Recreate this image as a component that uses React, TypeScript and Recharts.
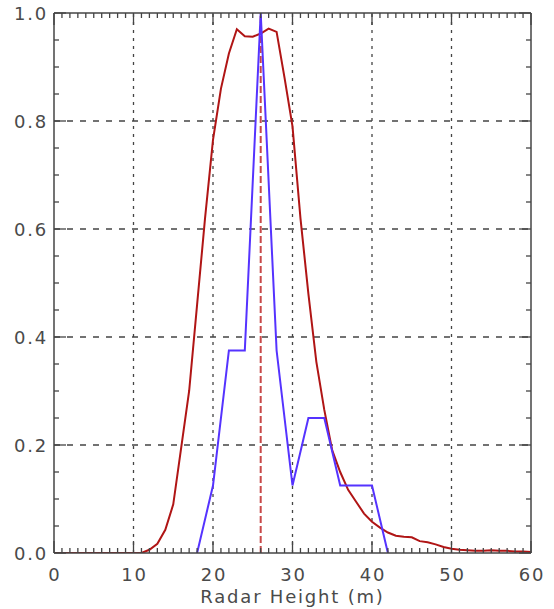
import React from 'react';
import { LineChart, Line, XAxis, YAxis, ReferenceLine } from 'recharts';

// Radar height (m) grid for the red curve
const redHeights = [
  0, 1, 2, 3, 4, 5, 6, 7, 8, 9, 10, 11, 12, 13, 14, 15, 16, 17, 18, 19, 20,
  21, 22, 23, 24, 25, 26, 27, 28, 29, 30, 31, 32, 33, 34, 35, 36, 37, 38, 39, 40,
  41, 42, 43, 44, 45, 46, 47, 48, 49, 50, 51, 52, 53, 54, 55, 56, 57, 58, 59, 60,
];
const redValues = [
  0, 0, 0, 0, 0, 0, 0, 0, 0, 0, 0, 0, 0.006, 0.017, 0.043, 0.09, 0.195, 0.3, 0.46, 0.62, 0.765,
  0.86, 0.925, 0.97, 0.957, 0.956, 0.962, 0.971, 0.965, 0.88, 0.79, 0.62, 0.48, 0.354, 0.265, 0.19, 0.15, 0.117, 0.095, 0.073, 0.058,
  0.047, 0.038, 0.032, 0.03, 0.029, 0.022, 0.02, 0.016, 0.011, 0.008, 0.006, 0.005, 0.004, 0.004, 0.005, 0.004, 0.004, 0.003, 0.003, 0.002,
];

const blueHeights = [18, 20, 22, 24, 26, 28, 30, 32, 34, 36, 38, 40, 42];
const blueValues = [0, 0.125, 0.375, 0.375, 1, 0.375, 0.125, 0.25, 0.25, 0.125, 0.125, 0.125, 0];

const peakHeight = 26;

const xMajorTicks = [0, 10, 20, 30, 40, 50, 60];
const xGridLines = [10, 20, 30, 40, 50];
const yMajorTicks = [0, 0.2, 0.4, 0.6, 0.8, 1.0];
const yGridLines = [0.2, 0.4, 0.6, 0.8];

const xMinorTicks = Array.from({ length: 61 }, (_, i) => i);
const yMinorTicks = Array.from({ length: 21 }, (_, i) => i / 20);

const redData = redHeights.map((h, i) => ({ x: h, y: redValues[i] }));
const blueData = blueHeights.map((h, i) => ({ x: h, y: blueValues[i] }));

const AXIS = '#444444';
const TEXT = '#4a4a4a';
const FONT = 'DejaVu Sans, sans-serif';
const LS = 1.8;

const isXMajor = (v: number) => xMajorTicks.includes(Math.round(v));
const isYMajor = (v: number) => yMajorTicks.some((t) => Math.abs(t - v) < 1e-6);

const BottomTick = (props: any) => {
  const { x, y, payload } = props;
  const major = isXMajor(payload.value);
  return (
    <g>
      <line x1={x} x2={x} y1={y} y2={y - (major ? 12 : 5)} stroke={AXIS} strokeWidth={1.3} />
      {major && (
        <text x={x + LS / 2} y={y + 21} textAnchor="middle" dominantBaseline="central" fill={TEXT} fontSize={18} fontFamily={FONT} letterSpacing={LS}>
          {Math.round(payload.value)}
        </text>
      )}
    </g>
  );
};

const TopTick = (props: any) => {
  const { x, y, payload } = props;
  const major = isXMajor(payload.value);
  return <line x1={x} x2={x} y1={y} y2={y + (major ? 12 : 5)} stroke={AXIS} strokeWidth={1.3} />;
};

const LeftTick = (props: any) => {
  const { x, y, payload } = props;
  const major = isYMajor(payload.value);
  return (
    <g>
      <line x1={x} x2={x + (major ? 12 : 5)} y1={y} y2={y} stroke={AXIS} strokeWidth={1.3} />
      {major && (
        <text x={x - 6} y={y} textAnchor="end" dominantBaseline="central" fill={TEXT} fontSize={18} fontFamily={FONT} letterSpacing={LS}>
          {payload.value.toFixed(1)}
        </text>
      )}
    </g>
  );
};

const RightTick = (props: any) => {
  const { x, y, payload } = props;
  const major = isYMajor(payload.value);
  return <line x1={x} x2={x - (major ? 12 : 5)} y1={y} y2={y} stroke={AXIS} strokeWidth={1.3} />;
};

export default function App() {
  return (
    <div style={{ position: 'absolute', left: 0, top: 0, background: '#fff' }}>
      <LineChart width={554} height={609} margin={{ top: 12, right: 22, bottom: 0, left: 0 }}>
        <XAxis
          dataKey="x"
          type="number"
          domain={[0, 60]}
          ticks={xMinorTicks}
          interval={0}
          height={56}
          tickSize={0}
          tickMargin={0}
          tick={<BottomTick />}
          axisLine={{ stroke: AXIS, strokeWidth: 1.5 }}
          allowDataOverflow
          label={{ value: 'Radar Height (m)', position: 'insideBottom', offset: 6, fill: TEXT, fontSize: 18, fontFamily: FONT, letterSpacing: LS }}
        />
        <XAxis
          xAxisId="top"
          orientation="top"
          dataKey="x"
          type="number"
          domain={[0, 60]}
          ticks={xMinorTicks}
          interval={0}
          height={1}
          tickSize={0}
          tickMargin={0}
          tick={<TopTick />}
          axisLine={{ stroke: AXIS, strokeWidth: 1.5 }}
          allowDataOverflow
        />
        <YAxis
          type="number"
          domain={[0, 1]}
          ticks={yMinorTicks}
          interval={0}
          width={54}
          tickSize={0}
          tickMargin={0}
          tick={<LeftTick />}
          axisLine={{ stroke: AXIS, strokeWidth: 1.5 }}
          allowDataOverflow
        />
        <YAxis
          yAxisId="right"
          orientation="right"
          type="number"
          domain={[0, 1]}
          ticks={yMinorTicks}
          interval={0}
          width={1}
          tickSize={0}
          tickMargin={0}
          tick={<RightTick />}
          axisLine={{ stroke: AXIS, strokeWidth: 1.5 }}
          allowDataOverflow
        />
        {xGridLines.map((v) => (
          <ReferenceLine key={`gx${v}`} x={v} stroke={AXIS} strokeWidth={1.3} strokeDasharray="3 5" />
        ))}
        {yGridLines.map((v) => (
          <ReferenceLine key={`gy${v}`} y={v} stroke={AXIS} strokeWidth={1.3} strokeDasharray="6 7" />
        ))}
        <ReferenceLine x={peakHeight} stroke="#c84848" strokeWidth={2} strokeDasharray="7 3" />
        <Line data={redData} dataKey="y" type="linear" stroke="#b01515" strokeWidth={2} dot={false} isAnimationActive={false} />
        <Line data={blueData} dataKey="y" type="linear" stroke="#5533ff" strokeWidth={2} dot={false} isAnimationActive={false} />
      </LineChart>
    </div>
  );
}
